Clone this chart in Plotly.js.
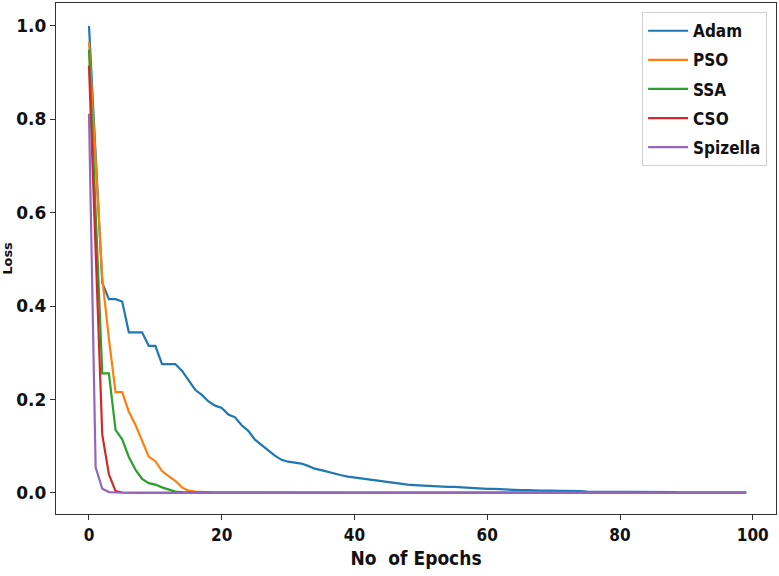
<!DOCTYPE html>
<html>
<head>
<meta charset="utf-8">
<script src="https://cdn.plot.ly/plotly-3.0.1.min.js"></script>
<style>html,body{margin:0;padding:0;background:#fff;}#chart{width:779px;height:576px;}</style>
</head>
<body>
<div id="chart"></div>
<script>
const seriesNames = ["Adam", "PSO", "SSA", "CSO", "Spizella"];
const seriesColors = ["#1f77b4", "#ff7f0e", "#2ca02c", "#d62728", "#9467bd"];

const adam = [1.0,0.72,0.45,0.415,0.415,0.41,0.344,0.344,0.344,0.315,
0.315,0.276,0.276,0.276,0.262,0.242,0.221,0.210,0.196,0.187,
0.182,0.168,0.162,0.145,0.133,0.114,0.102,0.092,0.080,0.071,
0.067,0.065,0.063,0.058,0.052,0.049,0.045,0.041,0.038,0.035,
0.033,0.031,0.029,0.027,0.025,0.023,0.021,0.019,0.018,0.017,
0.016,0.015,0.014,0.014,0.013,0.013,0.012,0.011,0.010,0.010,
0.009,0.009,0.008,0.007,0.007,0.006,0.006,0.005,0.005,0.005,
0.005,0.004,0.004,0.004,0.004,0.003,0.003,0.003,0.003,0.002,
0.002,0.002,0.002,0.002,0.002,0.002,0.002,0.002,0.002,0.001,
0.001,0.001,0.001,0.001,0.001,0.001,0.001,0.001,0.001,0.001];

const pso = [0.966,0.70,0.46,0.33,0.216,0.216,0.174,0.146,0.112,0.078,
0.068,0.047,0.036,0.026,0.012,0.005,0.003,0.002,0.002,0.001,
0.001,0.001,0.001,0.001,0.001,0.0008,0.0008,0.0007,0.0007,0.0006,
0.0006,0.0006,0.0005,0.0005,0.0005,0.0005,0.0005,0.0005,0.0005,0.0005,
0.0005,0.0005,0.0005,0.0005,0.0005,0.0005,0.0005,0.0005,0.0005,0.0005,
0.0005,0.0005,0.0005,0.0005,0.0005,0.0005,0.0005,0.0005,0.0005,0.0005,
0.0005,0.0005,0.0005,0.0005,0.0005,0.0005,0.0005,0.0005,0.0005,0.0005,
0.0005,0.0005,0.0005,0.0005,0.0005,0.0005,0.0005,0.0005,0.0005,0.0005,
0.0005,0.0005,0.0005,0.0005,0.0005,0.0005,0.0005,0.0005,0.0005,0.0005,
0.0005,0.0005,0.0005,0.0005,0.0005,0.0005,0.0005,0.0005,0.0005,0.0005];

const ssa = [0.949,0.60,0.256,0.256,0.135,0.115,0.077,0.050,0.030,0.021,
0.018,0.012,0.007,0.003,0.002,0.001,0.001,0.0008,0.0007,0.0006,
0.0005,0.0005,0.0005,0.0005,0.0005,0.0005,0.0005,0.0005,0.0005,0.0005,
0.0005,0.0005,0.0005,0.0005,0.0005,0.0005,0.0005,0.0005,0.0005,0.0005,
0.0005,0.0005,0.0005,0.0005,0.0005,0.0005,0.0005,0.0005,0.0005,0.0005,
0.0005,0.0005,0.0005,0.0005,0.0005,0.0005,0.0005,0.0005,0.0005,0.0005,
0.0005,0.0005,0.0005,0.0005,0.0005,0.0005,0.0005,0.0005,0.0005,0.0005,
0.0005,0.0005,0.0005,0.0005,0.0005,0.0005,0.0005,0.0005,0.0005,0.0005,
0.0005,0.0005,0.0005,0.0005,0.0005,0.0005,0.0005,0.0005,0.0005,0.0005,
0.0005,0.0005,0.0005,0.0005,0.0005,0.0005,0.0005,0.0005,0.0005,0.0005];

const cso = [0.915,0.52,0.125,0.040,0.004,0.001,0.0005,0.0004,0.0003,0.0003,
0.0003,0.0003,0.0003,0.0003,0.0003,0.0003,0.0003,0.0003,0.0003,0.0003,
0.0003,0.0003,0.0003,0.0003,0.0003,0.0003,0.0003,0.0003,0.0003,0.0003,
0.0003,0.0003,0.0003,0.0003,0.0003,0.0003,0.0003,0.0003,0.0003,0.0003,
0.0003,0.0003,0.0003,0.0003,0.0003,0.0003,0.0003,0.0003,0.0003,0.0003,
0.0003,0.0003,0.0003,0.0003,0.0003,0.0003,0.0003,0.0003,0.0003,0.0003,
0.0003,0.0003,0.0003,0.0003,0.0003,0.0003,0.0003,0.0003,0.0003,0.0003,
0.0003,0.0003,0.0003,0.0003,0.0003,0.0003,0.0003,0.0003,0.0003,0.0003,
0.0003,0.0003,0.0003,0.0003,0.0003,0.0003,0.0003,0.0003,0.0003,0.0003,
0.0003,0.0003,0.0003,0.0003,0.0003,0.0003,0.0003,0.0003,0.0003,0.0003];

const spizella = [0.812,0.055,0.009,0.002,0.001,0.0005,0.0003,0.0003,0.0003,0.0003,
0.0003,0.0003,0.0003,0.0003,0.0003,0.0003,0.0003,0.0003,0.0003,0.0003,
0.0003,0.0003,0.0003,0.0003,0.0003,0.0003,0.0003,0.0003,0.0003,0.0003,
0.0003,0.0003,0.0003,0.0003,0.0003,0.0003,0.0003,0.0003,0.0003,0.0003,
0.0003,0.0003,0.0003,0.0003,0.0003,0.0003,0.0003,0.0003,0.0003,0.0003,
0.0003,0.0003,0.0003,0.0003,0.0003,0.0003,0.0003,0.0003,0.0003,0.0003,
0.0003,0.0003,0.0003,0.0003,0.0003,0.0003,0.0003,0.0003,0.0003,0.0003,
0.0003,0.0003,0.0003,0.0003,0.0003,0.0003,0.0003,0.0003,0.0003,0.0003,
0.0003,0.0003,0.0003,0.0003,0.0003,0.0003,0.0003,0.0003,0.0003,0.0003,
0.0003,0.0003,0.0003,0.0003,0.0003,0.0003,0.0003,0.0003,0.0003,0.0003];

const allSeries = [adam, pso, ssa, cso, spizella];
const yTickVals = [0.0, 0.2, 0.4, 0.6, 0.8, 1.0];
const xTickVals = [0, 20, 40, 60, 80, 100];

const traces = allSeries.map((vals, i) => ({
  x: vals.map((_, k) => k),
  y: vals,
  type: "scatter",
  mode: "lines",
  name: seriesNames[i],
  legendgroup: "g" + i,
  line: {color: seriesColors[i], width: 2.2}
}));

const layout = {
  width: 779, height: 576,
  margin: {l: 56, r: 3, t: 3, b: 62},
  paper_bgcolor: "#fff", plot_bgcolor: "#fff",
  showlegend: true,
  legend: {
    x: 0.814, y: 0.982, xanchor: "left", yanchor: "top",
    bgcolor: "rgba(255,255,255,0.9)", bordercolor: "#d0d0d0", borderwidth: 1,
    font: {family: "DejaVu Sans Condensed, DejaVu Sans", size: 17, color: "#111", weight: "bold"},
    tracegroupgap: 4, itemwidth: 40
  },
  xaxis: {
    range: [-4.97, 103.5], tickvals: xTickVals, ticktext: xTickVals.map(String),
    showgrid: false, zeroline: false, showline: true, mirror: true, linecolor: "#333", linewidth: 1.3,
    ticks: "outside", ticklen: 5, tickcolor: "#333",
    tickfont: {family: "DejaVu Sans Condensed, DejaVu Sans", size: 17, color: "#111", weight: "bold"},
    title: {text: "No\u00a0 of Epochs", standoff: 8, font: {family: "DejaVu Sans Condensed, DejaVu Sans", size: 19, color: "#111", weight: "bold"}}
  },
  yaxis: {
    range: [-0.045, 1.049], tickvals: yTickVals, tickformat: ".1f",
    showgrid: false, zeroline: false, showline: true, mirror: true, linecolor: "#333", linewidth: 1.3,
    ticks: "outside", ticklen: 5, tickcolor: "#333",
    tickfont: {family: "DejaVu Sans", size: 17, color: "#111", weight: "bold"},
    title: {text: "Loss", standoff: 10, font: {family: "DejaVu Sans", size: 13, color: "#111", weight: "bold"}}
  }
};

Plotly.newPlot("chart", traces, layout, {displayModeBar: false, staticPlot: true});
</script>
</body>
</html>
